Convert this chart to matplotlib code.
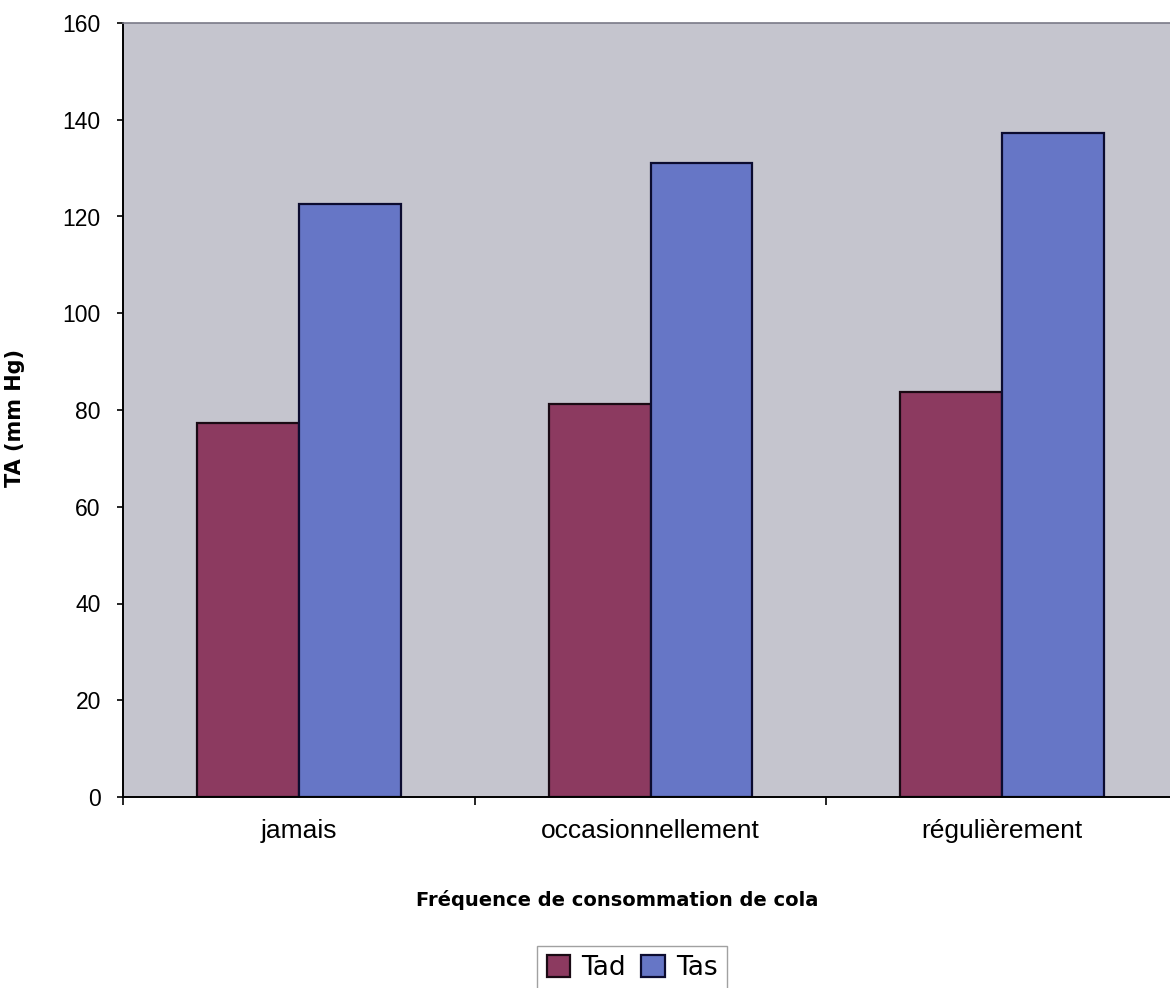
import matplotlib.pyplot as plt
import numpy as np

# Tension artérielle selon la fréquence de consommation de cola
categories = ['jamais', 'occasionnellement', 'régulièrement']
tad = [77.3, 81.3, 83.7]
tas = [122.5, 131.1, 137.3]
series_names = ['Tad', 'Tas']
yticks = [0, 20, 40, 60, 80, 100, 120, 140, 160]

W, H = 1170, 988
fig = plt.figure(figsize=(W / 100, H / 100), dpi=100)
fig.patch.set_facecolor('white')

# plot area in pixel coordinates (the right edge runs past the figure)
left, right, top, bottom = 123, 1178, 23, 797
ax = fig.add_axes([left / W, (H - bottom) / H, (right - left) / W, (bottom - top) / H])
ax.set_facecolor('#c5c5ce')

x = np.arange(len(categories))
bw = 0.29
ax.bar(x - bw / 2, tad, bw, color='#8c3a60', edgecolor='#1a0a14', linewidth=1.6, label=series_names[0])
ax.bar(x + bw / 2, tas, bw, color='#6676c6', edgecolor='#0c0c30', linewidth=1.6, label=series_names[1])

ax.set_xlim(-0.5, 2.5)
ax.set_ylim(0, 160)
ax.set_yticks(yticks)

# ticks on category boundaries, labels at the centres
ax.set_xticks([-0.5, 0.5, 1.5, 2.5])
ax.set_xticklabels([])
ax.set_xticks(x, minor=True)
ax.set_xticklabels(categories, minor=True, fontsize=19, family='Liberation Sans')
ax.tick_params(axis='x', which='major', direction='out', length=6, width=1.2, color='black')
ax.tick_params(axis='x', which='minor', length=0, pad=16)
ax.tick_params(axis='y', direction='out', length=4, width=1.2, pad=12, labelsize=16.5)
for t in ax.get_yticklabels():
    t.set_family('Liberation Sans')

for s in ['left', 'bottom']:
    ax.spines[s].set_color('black')
    ax.spines[s].set_linewidth(1.4)
ax.spines['top'].set_color('#7a7a88')
ax.spines['top'].set_linewidth(1.2)
ax.spines['right'].set_visible(False)

ax.set_ylabel('TA (mm Hg)', fontsize=15, fontweight='bold', family='DejaVu Sans')
ax.yaxis.set_label_coords(-0.093, 0.49)
ax.set_xlabel('Fréquence de consommation de cola', fontsize=14, fontweight='bold', family='DejaVu Sans')
ax.xaxis.set_label_coords(0.468, -0.12)

leg = fig.legend(loc='center', bbox_to_anchor=(632 / W, 20 / H), ncol=2, frameon=True, fancybox=False,
                 handlelength=0.9, handleheight=0.9, handletextpad=0.4, columnspacing=0.6,
                 borderpad=0.35, prop={'family': 'DejaVu Sans', 'size': 19})
leg.get_frame().set_edgecolor('#8a8a8a')
leg.get_frame().set_linewidth(1.0)

fig.savefig('out.png', dpi=100)
